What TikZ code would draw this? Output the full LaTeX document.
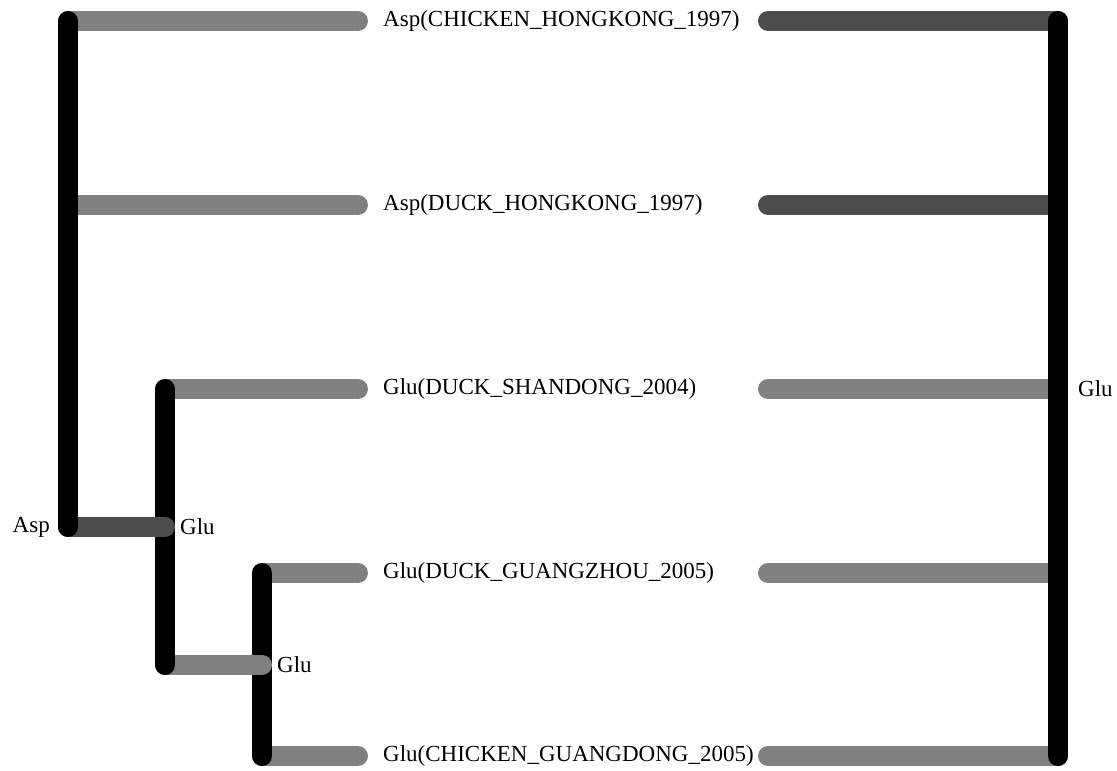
\documentclass[tikz,border=0pt]{standalone}
\usepackage{fontspec}
\setmainfont{Liberation Serif}
\definecolor{barmid}{HTML}{808080}
\definecolor{bardark}{HTML}{4D4D4D}
\begin{document}
\begin{tikzpicture}[x=1pt,y=-1pt,
  bar/.style={line width=20pt, line cap=round},
  branch/.style={bar, black},
  lbl/.style={inner sep=0pt, font=\fontsize{23}{27}\selectfont}]
\useasboundingbox (0,0) rectangle (1117,771);

% tree points
\coordinate (r0) at (68,527);
\coordinate (r0top) at (68,21);
\coordinate (r0mid) at (68,205);
\coordinate (n1) at (165,527);
\coordinate (n1top) at (165,389);
\coordinate (n1bot) at (165,665);
\coordinate (n2) at (262,665);
\coordinate (n2top) at (262,573);
\coordinate (n2bot) at (262,756);
\coordinate (l1) at (358,21);
\coordinate (l2) at (358,205);
\coordinate (l3) at (358,389);
\coordinate (l4) at (358,573);
\coordinate (l5) at (358,756);
\coordinate (e1) at (768,21);
\coordinate (e2) at (768,205);
\coordinate (e3) at (768,389);
\coordinate (e4) at (768,573);
\coordinate (e5) at (768,756);
\coordinate (rtop) at (1058,21);
\coordinate (rmid) at (1058,389);
\coordinate (rbot) at (1058,756);

% leaf labels
\node[lbl, anchor=west] (t1) at (383,21) {Asp(CHICKEN\_HONGKONG\_1997)};
\node[lbl, anchor=west] (t2) at (383,205) {Asp(DUCK\_HONGKONG\_1997)};
\node[lbl, anchor=west] (t3) at (383,389) {Glu(DUCK\_SHANDONG\_2004)};
\node[lbl, anchor=west] (t4) at (383,573) {Glu(DUCK\_GUANGZHOU\_2005)};
\node[lbl, anchor=west] (t5) at (383,756) {Glu(CHICKEN\_GUANGDONG\_2005)};

% left tree, innermost clade first
\draw[bar, barmid] (n2top) -- (l4);
\draw[bar, barmid] (n2bot) -- (l5);
\draw[branch] (n2top) -- (n2bot);
\draw[bar, barmid] (n1bot) -- (n2);
\draw[bar, barmid] (n1top) -- (l3);
\draw[branch] (n1top) -- (n1bot);
\draw[bar, bardark] (r0) -- (n1);
\draw[bar, barmid] (r0top) -- (l1);
\draw[bar, barmid] (r0mid) -- (l2);
\draw[branch] (r0top) -- (r0);

% right tree
\draw[bar, bardark] (e1) -- (rtop);
\draw[bar, bardark] (e2) -- (1058,205);
\draw[bar, barmid] (e3) -- (rmid);
\draw[bar, barmid] (e4) -- (1058,573);
\draw[bar, barmid] (e5) -- (rbot);
\draw[branch] (rtop) -- (rbot);

% internal node labels
\node[lbl, anchor=east] (a0) at (50,527) {Asp};
\node[lbl, anchor=west] (g1) at (180,527) {Glu};
\node[lbl, anchor=west] (g2) at (277,665) {Glu};
\node[lbl, anchor=west] (g3) at (1078,389) {Glu};
\end{tikzpicture}
\end{document}
